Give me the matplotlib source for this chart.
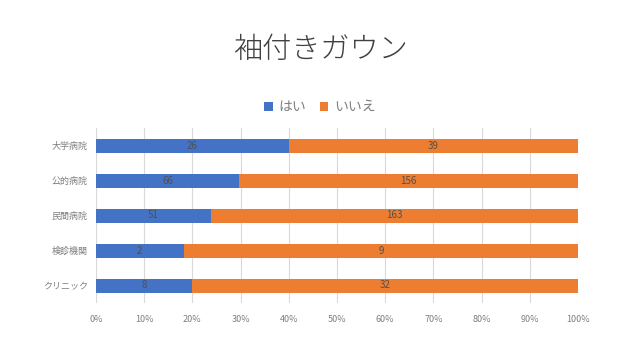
import matplotlib
matplotlib.use("Agg")
import matplotlib.pyplot as plt
import numpy as np

plt.rcParams['font.family'] = ['Noto Sans CJK JP', 'DejaVu Sans']

categories = ["大学病院", "公的病院", "民間病院", "検診機関", "クリニック"]
yes_vals = [26, 66, 51, 2, 8]
no_vals = [39, 156, 163, 9, 32]
series_names = ["はい", "いいえ"]
colors = ["#4472C4", "#ED7D31"]
xticklabels = ["0%", "10%", "20%", "30%", "40%", "50%", "60%", "70%", "80%", "90%", "100%"]

yes = np.array(yes_vals, float)
no = np.array(no_vals, float)
tot = yes + no
yp = yes / tot
np_ = no / tot

fig = plt.figure(figsize=(6.4, 3.6), dpi=100)
ax = fig.add_axes([96/640, 1-303/360, (578-96)/640, (303-128)/360])

y = np.arange(len(categories))
b1 = ax.barh(y, yp, height=0.4, color=colors[0], label=series_names[0], zorder=3)
b2 = ax.barh(y, np_, left=yp, height=0.4, color=colors[1], label=series_names[1], zorder=3)

for i in range(len(categories)):
    ax.text(yp[i]/2, y[i], str(yes_vals[i]), ha='center', va='center', fontsize=7, color='#505050', zorder=4)
    ax.text(yp[i] + np_[i]/2, y[i], str(no_vals[i]), ha='center', va='center', fontsize=7, color='#505050', zorder=4)

ax.set_ylim(len(categories)-0.5, -0.5)
ax.set_xlim(0, 1)
ax.set_yticks(y)
ax.set_yticklabels(categories, fontsize=6.5, color='#7F7F7F')
ax.set_xticks(np.linspace(0, 1, 11))
ax.set_xticklabels(xticklabels, fontsize=6.5, color='#7F7F7F')
ax.tick_params(axis='both', length=0, pad=6)
ax.tick_params(axis='x', pad=9)
ax.grid(axis='x', color='#D9D9D9', linewidth=0.8, zorder=0)
for s in ax.spines.values():
    s.set_visible(False)

fig.text(0.5, 1-50/360, "袖付きガウン", ha='center', va='center', fontsize=21, color='#404040', fontweight='light')
fig.legend(handles=[b1, b2], labels=series_names, loc='center', bbox_to_anchor=(0.5, 1-107/360),
           ncol=2, frameon=False, fontsize=10, labelcolor='#7F7F7F', handlelength=0.6, handleheight=0.6,
           handletextpad=0.4, columnspacing=1.0)

fig.savefig("out.png", dpi=100)
